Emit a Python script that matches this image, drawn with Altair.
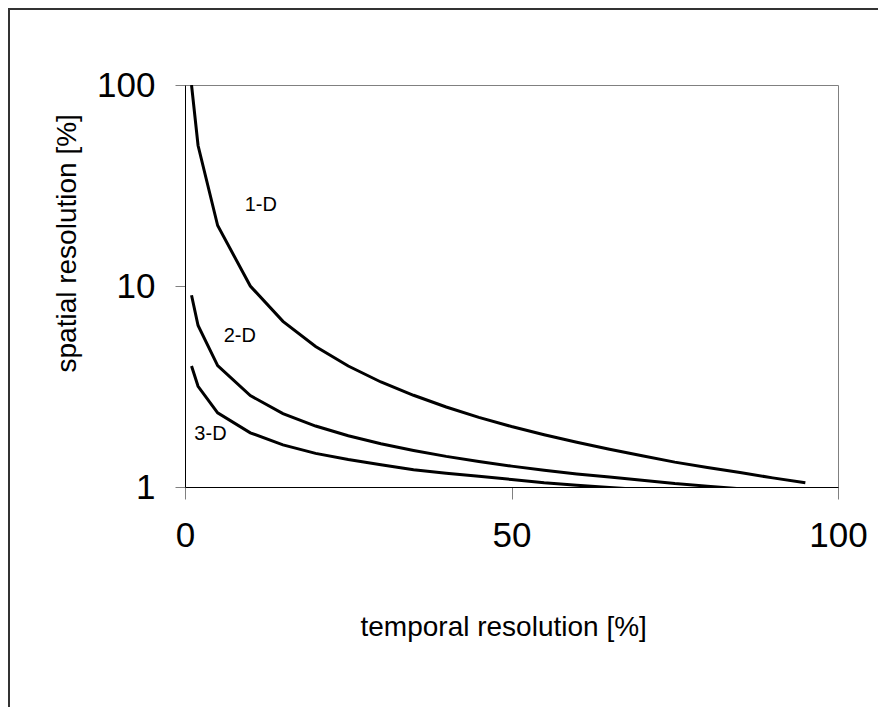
import altair as alt
import pandas as pd

# temporal resolution [%]
x_vals = [1, 2, 5, 10, 15, 20, 25, 30, 35, 40, 45, 50, 55, 60, 65, 70, 75, 80, 85, 90, 95]
# spatial resolution [%] per curve
y_1d = [100, 50, 20, 10, 6.67, 5.0, 4.0, 3.33, 2.86, 2.5, 2.22, 2.0, 1.82, 1.67, 1.54, 1.43, 1.33, 1.25, 1.18, 1.11, 1.05]
y_2d = [9.0, 6.36, 4.02, 2.85, 2.32, 2.01, 1.8, 1.64, 1.52, 1.42, 1.34, 1.27, 1.21, 1.16, 1.12, 1.08, 1.04, 1.01, 0.98, 0.95, 0.92]
y_3d = [4.0, 3.17, 2.34, 1.86, 1.62, 1.47, 1.37, 1.29, 1.22, 1.17, 1.13, 1.09, 1.05, 1.02, 0.995, 0.97, 0.95, 0.93, 0.91, 0.89, 0.88]

label_text = ["1-D", "2-D", "3-D"]
label_x = [11.6, 8.4, 3.9]
label_y = [25.2, 5.65, 1.83]

rows = []
for name, ys in zip(label_text, [y_1d, y_2d, y_3d]):
    for xv, yv in zip(x_vals, ys):
        rows.append({"series": name, "t": xv, "s": yv})
df = pd.DataFrame(rows)
lab = pd.DataFrame({"text": label_text, "t": label_x, "s": label_y})

FONT = "Liberation Sans"

xscale = alt.Scale(domain=[0, 100], nice=False, zero=False)
yscale = alt.Scale(type="log", domain=[1, 100], nice=False)

xaxis = alt.Axis(
    title="temporal resolution [%]", values=[0, 50, 100], grid=False, labelFlush=False,
    tickSize=12, tickColor="#808080", domainColor="black", domainWidth=1,
    labelFontSize=35, labelFont=FONT, labelColor="black", labelPadding=19,
    titleFontSize=28, titleFont=FONT, titleFontWeight="normal", titleColor="black",
    titleAnchor="start", titleX=175, titleY=126, titleBaseline="top",
)
yaxis = alt.Axis(
    title="spatial resolution [%]", values=[1, 10, 100], grid=False, format="d", labelFlush=False,
    tickSize=10, tickColor="#808080", domainColor="black", domainWidth=1,
    labelFontSize=35, labelFont=FONT, labelColor="black", labelPadding=20,
    titleFontSize=28, titleFont=FONT, titleFontWeight="normal", titleColor="black",
    titleAnchor="start", titleAngle=-90, titleX=-104, titleY=287, titleBaseline="bottom",
)

lines = alt.Chart(df).mark_line(color="black", strokeWidth=3, clip=True).encode(
    x=alt.X("t:Q", scale=xscale, axis=xaxis),
    y=alt.Y("s:Q", scale=yscale, axis=yaxis),
    detail="series:N",
)

labels = alt.Chart(lab).mark_text(font=FONT, fontSize=20, color="black", align="center", baseline="middle").encode(
    x=alt.X("t:Q", scale=xscale),
    y=alt.Y("s:Q", scale=yscale),
    text="text:N",
)

frame_top = alt.Chart(lab).mark_rule(color="#333333", strokeWidth=2, clip=False).encode(
    x=alt.value(-177), x2=alt.value(720), y=alt.value(-76)
)
frame_left = alt.Chart(lab).mark_rule(color="#333333", strokeWidth=2, clip=False).encode(
    x=alt.value(-176), y=alt.value(-77), y2=alt.value(640)
)

chart = alt.layer(frame_top, frame_left, lines, labels).properties(
    width=653, height=402,
    autosize=alt.AutoSizeParams(type="none"),
    padding={"left": 177, "top": 77, "right": 40, "bottom": 220},
    background="white",
).configure_view(stroke="#808080", strokeWidth=1)

chart.save("out.html", embed_options={"renderer": "svg", "actions": False})
